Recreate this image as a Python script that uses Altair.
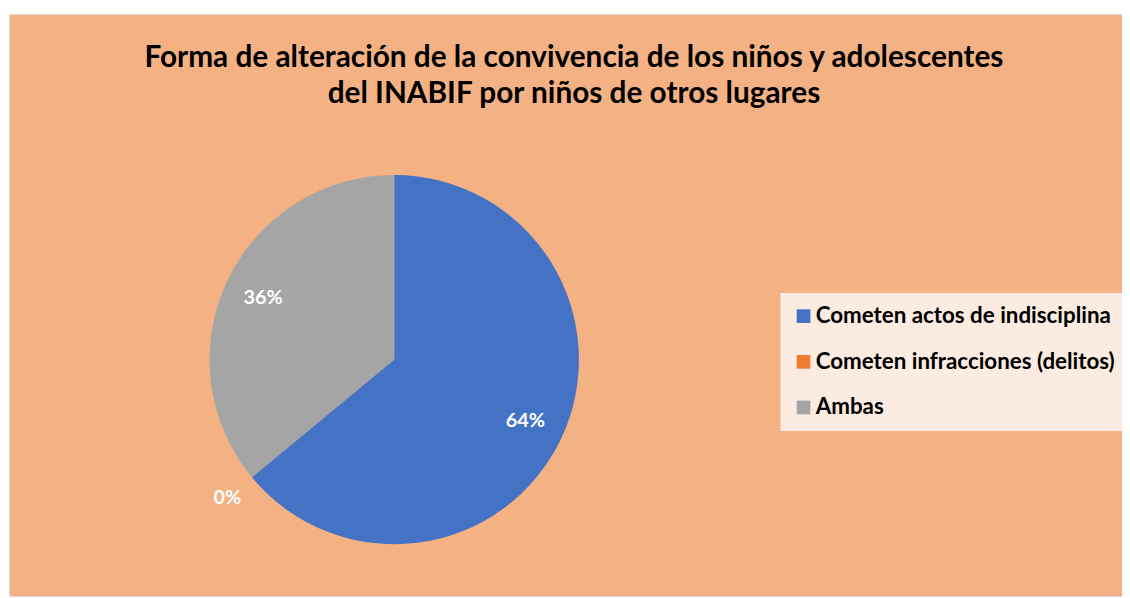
import altair as alt
import pandas as pd

categories = ["Cometen actos de indisciplina", "Cometen infracciones (delitos)", "Ambas"]
values = [64, 0, 36]
labels = ["64%", "0%", "36%"]
colors = ["#4472C4", "#ED7D31", "#A5A5A5"]
title_lines = [
    "Forma de alteración de la convivencia de los niños y adolescentes",
    "del INABIF por niños de otros lugares",
]

df = pd.DataFrame({"cat": categories, "value": values, "label": labels, "order": [0, 1, 2]})
title_df = pd.DataFrame({"t": ["\n".join(title_lines)]})

CX, CY, R = 388, 348, 186
FONT = "Lato"

base = alt.Chart(df).encode(
    theta=alt.Theta("value:Q", stack=True),
    order=alt.Order("order:Q"),
    x=alt.value(CX),
    y=alt.value(CY),
)

pie = base.mark_arc(outerRadius=R, stroke=None).encode(
    color=alt.Color(
        "cat:N",
        sort=categories,
        scale=alt.Scale(domain=categories, range=colors),
        legend=alt.Legend(
            title=None,
            orient="none",
            legendX=777,
            legendY=281,
            fillColor="#FBEBE1",
            padding=12,
            symbolType="square",
            symbolSize=190,
            symbolStrokeWidth=0,
            labelFont=FONT,
            labelFontSize=22.5,
            labelFontWeight="bold",
            labelColor="#000000",
            labelLimit=500,
            labelOffset=1,
            rowPadding=23,
        ),
    )
)

lab_in = base.mark_text(
    radius=146, font=FONT, fontSize=20, fontWeight="bold", color="white"
).encode(text=alt.condition("datum.value > 0", "label:N", alt.value("")))

lab_out = base.mark_text(
    radius=218, font=FONT, fontSize=20, fontWeight="bold", color="white"
).encode(text=alt.condition("datum.value == 0", "label:N", alt.value("")))

title = alt.Chart(title_df).mark_text(
    font=FONT, fontSize=30, fontWeight="bold", color="#000000",
    lineBreak="\n", lineHeight=37, baseline="alphabetic", align="center",
).encode(text="t:N", x=alt.value(569), y=alt.value(53))

chart = alt.layer(pie, lab_in, lab_out, title).properties(
    width=1122,
    height=590,
    autosize=alt.AutoSizeParams(type="fit", contains="padding"),
    padding={"left": 1, "top": 4, "right": 0, "bottom": 0},
    background="white",
).configure_view(fill="#F4B183", stroke="#D9D9D9", strokeWidth=1)

chart.save("out.html", embed_options={"renderer": "svg", "actions": False})
